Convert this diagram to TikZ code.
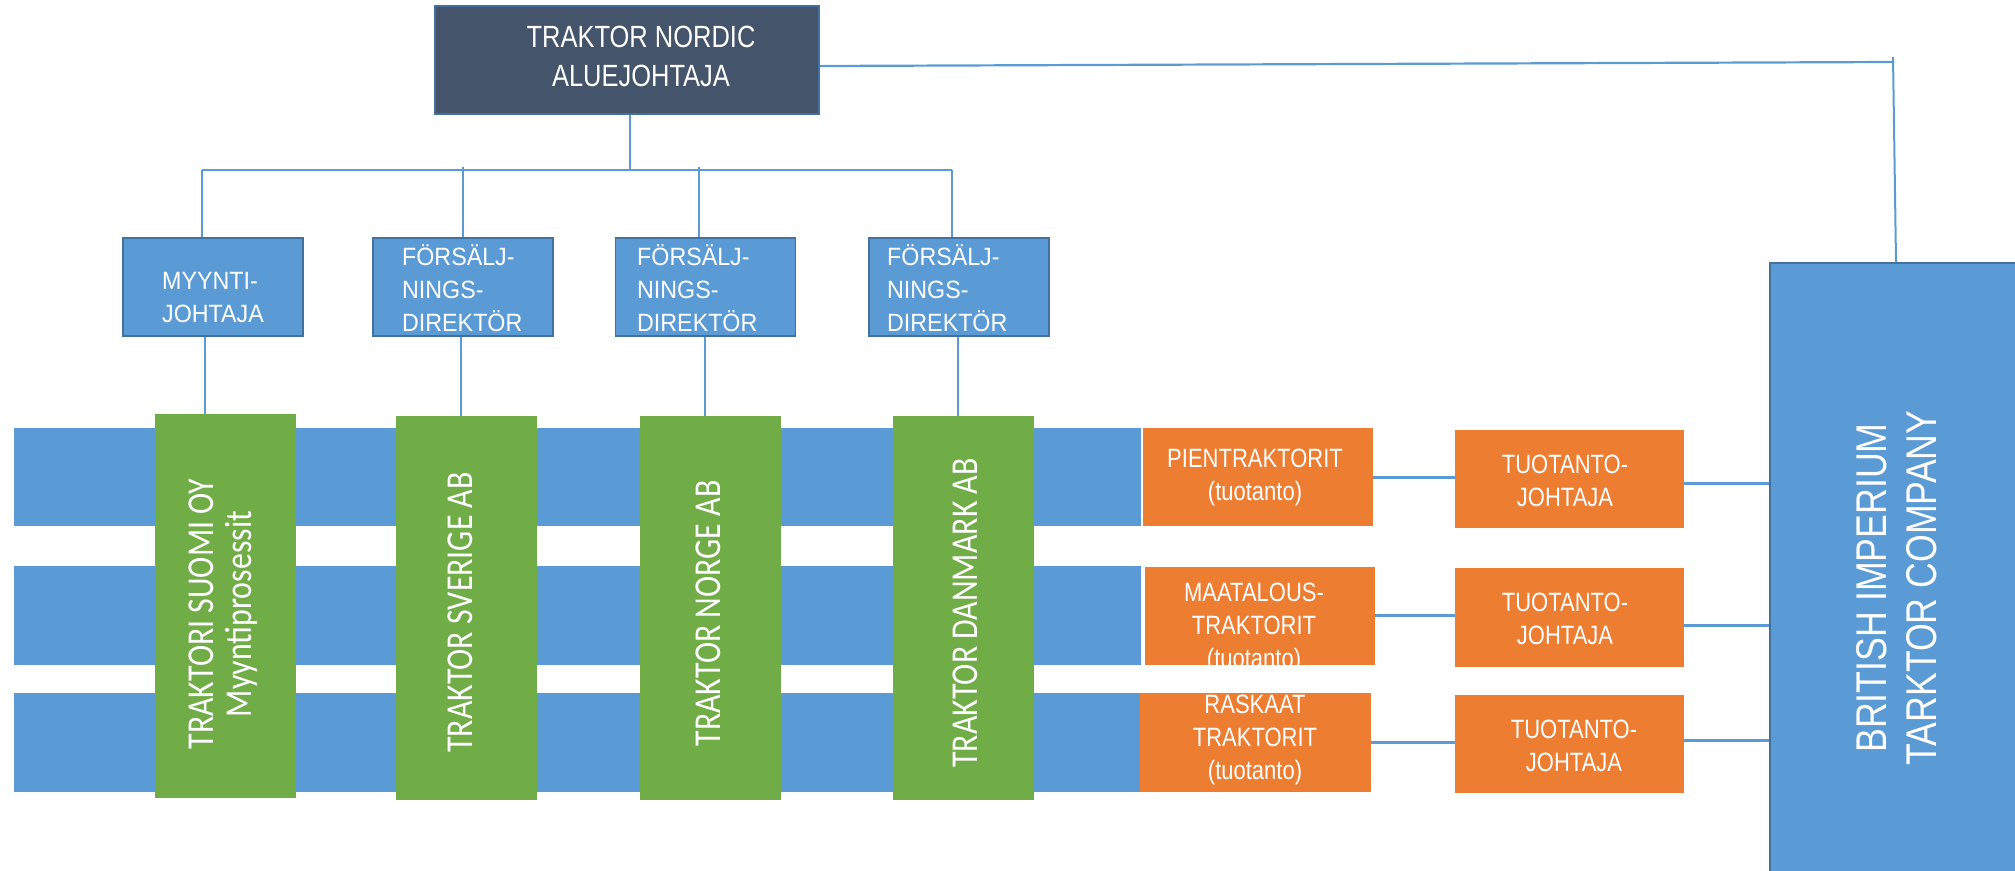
\documentclass[tikz,border=0pt]{standalone}
\usepackage{fontspec}
\newfontfamily\nar[FakeStretch=0.83]{Liberation Sans}
\newfontfamily\narm[FakeStretch=0.93]{Liberation Sans}
\newfontfamily\calf[FakeStretch=0.84]{Carlito}
\definecolor{mblue}{HTML}{5B9BD5}
\definecolor{bdr}{HTML}{41719C}
\definecolor{slate}{HTML}{44546A}
\definecolor{grn}{HTML}{70AD47}
\definecolor{org}{HTML}{ED7D31}
\tikzset{
  topbox/.style={draw=bdr, line width=1.5pt, fill=slate, minimum width=384pt, minimum height=108pt, inner sep=0pt},
  midbox/.style={draw=bdr, line width=1.8pt, fill=mblue, minimum width=180pt, minimum height=98pt, inner sep=0pt},
  band/.style={fill=mblue, minimum width=1127pt, minimum height=98pt, inner sep=0pt},
  col/.style={fill=grn, minimum width=141pt, minimum height=384pt, inner sep=0pt},
  obox/.style={fill=org, minimum width=230pt, minimum height=98pt, inner sep=0pt},
  tbox/.style={fill=org, minimum width=229pt, minimum height=98pt, inner sep=0pt},
  wtxt/.style={text=white, inner sep=0pt, align=center},
  thinc/.style={draw=mblue, line width=1.4pt},
  thickc/.style={draw=mblue, line width=3pt},
  topfont/.style={font=\nar\fontsize{30.7}{39}\selectfont},
  midfont/.style={font=\narm\fontsize{25}{33}\selectfont},
  grnfont/.style={font=\calf\fontsize{38}{38}\selectfont},
  orgfont/.style={font=\nar\fontsize{26.5}{33}\selectfont},
  britfont/.style={font=\nar\fontsize{43}{50}\selectfont},
}
\begin{document}
\begin{tikzpicture}[x=1pt, y=-1pt]
\useasboundingbox (0,0) rectangle (2015,870);

% bands
\node[band] (b1) at (577.5,477) {};
\node[band, minimum height=99pt] (b2) at (577.5,615.5) {};
\node[band, minimum height=99pt] (b3) at (577.5,742.5) {};

% green columns
\node[col] (c1) at (225.5,606) {};
\node[col] (c2) at (466.5,608) {};
\node[col] (c3) at (710.5,608) {};
\node[col] (c4) at (963.5,608) {};
\node[wtxt, grnfont, rotate=90] (c1t) at (223,614) {TRAKTORI SUOMI OY\\Myyntiprosessit};
\node[wtxt, grnfont, rotate=90] (c2t) at (460.5,612.5) {TRAKTOR SVERIGE AB};
\node[wtxt, grnfont, rotate=90] (c3t) at (708,613.5) {TRAKTOR NORGE AB};
\node[wtxt, grnfont, rotate=90] (c4t) at (965,613) {TRAKTOR DANMARK AB};

% top box
\node[topbox] (tb) at (627,60) {};
\node[wtxt, topfont] (tbt) at (641,56.5) {TRAKTOR NORDIC\\ALUEJOHTAJA};

% mid boxes
\node[midbox] (m1) at (213,287) {};
\node[midbox] (m2) at (463,287) {};
\node[midbox] (m3) at (705.5,287) {};
\node[midbox] (m4) at (959,287) {};
\node[wtxt, midfont, align=left, anchor=west] (m1t) at (162,297.5) {MYYNTI-\\JOHTAJA};
\node[wtxt, midfont, align=left, anchor=west] (m2t) at (402,288) {FÖRSÄLJ-\\NINGS-\\DIREKTÖR};
\node[wtxt, midfont, align=left, anchor=west] (m3t) at (637,288) {FÖRSÄLJ-\\NINGS-\\DIREKTÖR};
\node[wtxt, midfont, align=left, anchor=west] (m4t) at (887,288) {FÖRSÄLJ-\\NINGS-\\DIREKTÖR};

% org connectors
\coordinate (bar) at (630,170);
\coordinate (barL) at (202,170);
\coordinate (barR) at (952,170);
\coordinate (k2) at (463,167);
\coordinate (k3) at (699,167);
\draw[thinc] (tb.south -| bar) -- (bar);
\draw[thinc] (barL) -- (barR);
\draw[thinc] (barL) -- (m1.north -| barL);
\draw[thinc] (k2) -- (m2.north -| k2);
\draw[thinc] (k3) -- (m3.north -| k3);
\draw[thinc] (barR) -- (m4.north -| barR);
\draw[thinc] (m1.south -| 205,0) -- (c1.north -| 205,0);
\draw[thinc] (m2.south -| 461,0) -- (c2.north -| 461,0);
\draw[thinc] (m3.south -| 705,0) -- (c3.north -| 705,0);
\draw[thinc] (m4.south -| 958,0) -- (c4.north -| 958,0);

% british box
\node[draw=bdr, line width=2pt, fill=mblue, minimum width=280pt, minimum height=640pt, inner sep=0pt, anchor=north west] (brit) at (1769,262) {};
\node[wtxt, britfont, rotate=90] (britt) at (1897,588) {BRITISH IMPERIUM\\TARKTOR COMPANY};

% top-right connector
\coordinate (tr) at (1893,62);
\coordinate (trtop) at (1893,57);
\coordinate (bt) at (1896,262);
\draw[draw=mblue, line width=2.2pt] ([yshift=-6pt]tb.east) -- (tr);
\draw[draw=mblue, line width=2pt] (trtop) -- (bt);

% orange boxes
\node[obox] (p) at (1258,477) {};
\node[obox] (m) at (1260,615.5) {};
\node[obox, minimum width=231pt, minimum height=99pt] (r) at (1255.5,742.5) {};
\node[tbox] (t1) at (1569.5,479) {};
\node[tbox, minimum height=99pt] (t2) at (1569.5,617.5) {};
\node[tbox] (t3) at (1569.5,744) {};

\node[wtxt, orgfont] (pt) at (1255,477.5) {PIENTRAKTORIT\\(tuotanto)};
\node[wtxt, orgfont] (t1t) at (1565,481) {TUOTANTO-\\JOHTAJA};
\begin{scope}
\clip (m.south west) rectangle (m.north east);
\node[wtxt, orgfont] (mt) at (1254,628) {MAATALOUS-\\TRAKTORIT\\(tuotanto)};
\end{scope}
\node[wtxt, orgfont] (t2t) at (1565,618.5) {TUOTANTO-\\JOHTAJA};
\node[wtxt, orgfont] (rt) at (1255,740) {RASKAAT\\TRAKTORIT\\(tuotanto)};
\node[wtxt, orgfont] (t3t) at (1574,746) {TUOTANTO-\\JOHTAJA};

% orange connectors
\draw[thickc] (p.east) -- (p.east -| t1.west);
\draw[thickc] ([yshift=-4pt]t1.east) -- ([yshift=-4pt]t1.east -| brit.west);
\draw[thickc] (m.east) -- (m.east -| t2.west);
\draw[thickc] ([yshift=-7.5pt]t2.east) -- ([yshift=-7.5pt]t2.east -| brit.west);
\draw[thickc] (r.east) -- (r.east -| t3.west);
\draw[thickc] ([yshift=4pt]t3.east) -- ([yshift=4pt]t3.east -| brit.west);
\end{tikzpicture}
\end{document}
